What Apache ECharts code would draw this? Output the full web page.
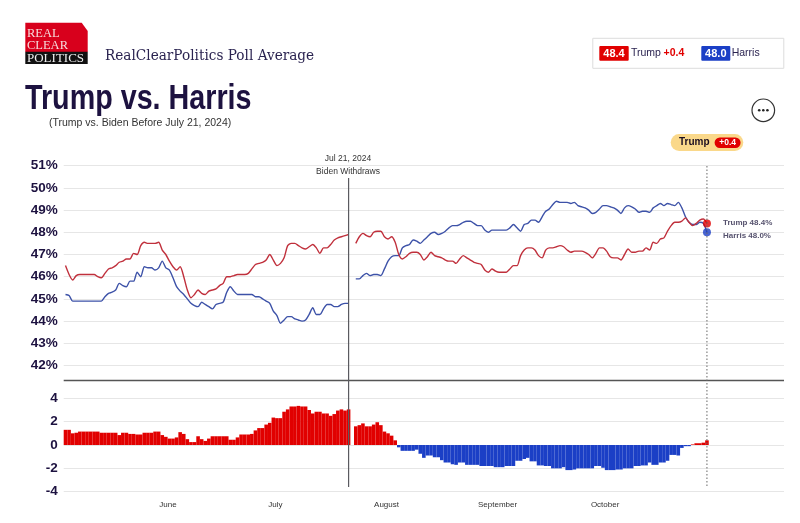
<!DOCTYPE html>
<html>
<head>
<meta charset="utf-8">
<style>
html, body { margin: 0; padding: 0; background: #fff; }
#main { width: 800px; height: 523px; }
</style>
<script src="https://cdn.jsdelivr.net/npm/echarts@6/dist/echarts.min.js"></script>
</head>
<body>
<div id="main"></div>
<script>
var startDate = [2024, 4, 3]; // May 3
var monthNames = ['Jan', 'Feb', 'Mar', 'Apr', 'May', 'Jun', 'Jul', 'Aug', 'Sep', 'Oct', 'Nov'];
var monthTicks = ['Jun 1', 'Jul 1', 'Aug 1', 'Sep 1', 'Oct 1'];
var monthLabels = ['June', 'July', 'August', 'September', 'October'];

var trumpVals = [
    46.5, 46.1, 45.85, 46.05, 46.1, 46.1, 46.1, 46.1, 46.1, 46.0,
    45.95, 46.15, 46.35, 46.4, 46.5, 46.65, 46.7, 46.8, 46.8, 47.05,
    47.0, 47.4, 47.55, 47.5, 47.5, 47.5, 47.55, 47.2, 47.0, 46.7,
    46.45, 46.3, 46.45, 46.0, 45.4, 45.05, 45.2, 45.4, 45.25, 45.2,
    45.35, 45.4, 45.45, 45.6, 45.7, 46.0, 46.0, 46.05, 46.1, 46.1,
    46.1, 46.15, 46.35, 46.55, 46.6, 46.65, 46.75, 47.0, 46.75, 46.5,
    46.6, 46.85, 47.4, 47.5, 47.5, 47.4, 47.3, 47.25, 47.35, 47.45,
    47.3, 47.05, 47.3, 47.3, 47.45, 47.65, 47.75, 47.8, 47.85, 47.9,
    null, 47.5, 47.8, 47.95, 47.85, 47.8, 48.0, 48.05, 48.05, 47.8,
    47.7, 47.8, 47.55, 47.0, 46.8, 46.9, 47.05, 47.1, 47.1, 47.0,
    46.75, 46.9, 47.1, 46.95, 46.9, 46.85, 46.75, 46.7, 46.7, 46.6,
    46.8, 46.95, 46.85, 46.75, 46.65, 46.6, 46.55, 46.3, 46.2, 46.35,
    46.25, 46.2, 46.2, 46.2, 46.35, 46.5, 46.5, 46.95, 47.2, 47.3,
    47.3, 47.2, 46.95, 46.85, 47.2, 47.3, 47.3, 47.35, 47.4, 47.35,
    47.2, 47.1, 47.15, 47.15, 47.15, 47.1, 47.0, 46.85, 47.05, 47.3,
    47.3, 47.15, 46.9, 46.85, 46.85, 46.75, 47.0, 47.25, 47.1, 47.1,
    47.15, 47.15, 47.3, 47.2, 47.55, 47.5, 47.7, 47.75, 48.05, 48.3,
    48.45, 48.45, 48.5, 48.65, 48.45, 48.3, 48.4, 48.55, 48.6, 48.4
];

var harrisVals = [
    45.2, 45.15, 44.9, 44.9, 44.9, 44.9, 44.9, 44.9, 44.9, 44.9,
    44.9, 45.1, 45.25, 45.3, 45.4, 45.7, 45.6, 45.55, 45.8, 45.8,
    46.2, 46.0, 46.45, 46.4, 46.4, 46.3, 46.4, 46.7, 46.4, 46.3,
    45.95, 45.55, 45.35, 45.2, 45.0, 44.8, 44.7, 44.65, 44.85, 44.75,
    44.65, 44.55, 44.75, 44.8, 44.85, 45.3, 45.55, 45.35, 45.2, 45.2,
    45.2, 45.2, 45.2, 45.1, 45.1, 45.0, 44.9, 44.8, 44.45, 44.25,
    43.9, 44.05, 44.2, 44.2, 44.1, 44.05, 44.0, 44.05, 44.3, 44.6,
    44.3, 44.3, 44.55, 44.75, 44.75, 44.65, 44.65, 44.75, 44.8, 44.8,
    null, 45.9, 45.9, 46.05, 46.15, 46.05, 46.1, 46.1, 46.05, 46.35,
    46.7, 46.9, 46.95, 46.95, 47.3, 47.4, 47.45, 47.65, 47.6, 47.5,
    47.65, 47.8, 47.95, 48.0, 47.9, 47.95, 48.05, 48.2, 48.3, 48.3,
    48.35, 48.45, 48.5, 48.5, 48.4, 48.3, 48.3, 48.1, 48.0, 48.1,
    48.1, 48.1, 48.1, 48.1, 48.2, 48.35, 48.2, 48.05, 48.35, 48.4,
    48.55, 48.55, 48.45, 48.7, 48.95, 49.05, 49.25, 49.4, 49.35, 49.35,
    49.35, 49.3, 49.35, 49.2, 49.15, 49.1, 49.0, 48.85, 48.9, 49.05,
    49.2, 49.2, 49.15, 49.1, 49.0, 48.85, 49.1, 49.2, 49.15, 49.05,
    48.9, 48.95, 48.95, 48.9, 49.1, 49.2, 49.3, 49.2, 49.3, 49.25,
    49.2, 49.35, 49.1, 48.7, 48.45, 48.35, 48.35, 48.45, 48.4, 48.0
];

var spreadVals = [
    1.3, 1.3, 1.0, 1.05, 1.15, 1.15, 1.15, 1.15, 1.15, 1.15,
    1.05, 1.05, 1.05, 1.05, 1.05, 0.85, 1.05, 1.05, 0.95, 0.95,
    0.9, 0.9, 1.05, 1.05, 1.05, 1.15, 1.15, 0.85, 0.7, 0.55,
    0.55, 0.65, 1.1, 0.95, 0.5, 0.25, 0.25, 0.75, 0.5, 0.35,
    0.55, 0.75, 0.75, 0.75, 0.75, 0.75, 0.45, 0.45, 0.65, 0.9,
    0.9, 0.9, 0.95, 1.25, 1.45, 1.45, 1.75, 1.9, 2.35, 2.3,
    2.3, 2.85, 3.05, 3.3, 3.3, 3.35, 3.3, 3.3, 3.0, 2.7,
    2.85, 2.85, 2.7, 2.7, 2.5, 2.65, 2.95, 3.05, 2.95, 3.05,
    null, 1.6, 1.7, 1.85, 1.6, 1.6, 1.75, 1.95, 1.7, 1.15,
    1.0, 0.8, 0.4, -0.2, -0.5, -0.5, -0.5, -0.5, -0.4, -0.75,
    -1.1, -0.9, -0.9, -1.05, -1.05, -1.3, -1.5, -1.5, -1.65, -1.7,
    -1.5, -1.5, -1.7, -1.7, -1.7, -1.7, -1.8, -1.8, -1.8, -1.8,
    -1.9, -1.9, -1.9, -1.8, -1.8, -1.8, -1.35, -1.35, -1.2, -1.1,
    -1.4, -1.4, -1.75, -1.75, -1.8, -1.8, -2.0, -2.0, -2.0, -1.9,
    -2.15, -2.15, -2.1, -2.0, -2.0, -2.0, -2.0, -2.0, -1.8, -1.8,
    -1.95, -2.15, -2.15, -2.15, -2.1, -2.1, -2.0, -2.0, -2.0, -1.8,
    -1.8, -1.75, -1.75, -1.5, -1.7, -1.7, -1.5, -1.5, -1.35, -0.85,
    -0.85, -0.9, -0.25, -0.1, -0.1, 0.05, 0.15, 0.15, 0.2, 0.4
];

var RED = '#e10000';
var BLUE = '#1b3fc6';
var NAVY = '#1d1240';
var FONT = '"Liberation Sans", Arial, sans-serif';

// one slot per day, the plot runs on past the last poll day
var days = [];
for (var i = 0; i < 201; i++) {
    var d = new Date(startDate[0], startDate[1], startDate[2] + i);
    days.push(monthNames[d.getMonth()] + ' ' + d.getDate());
}
var lastDay = days[trumpVals.length - 1];
var withdrawDay = 'Jul 21';

function txt(x, y, text, size, color, extra) {
    var style = { x: x, y: y, text: text, fontSize: size, fill: color, fontFamily: FONT, verticalAlign: 'middle' };
    for (var k in extra) style[k] = extra[k];
    return { type: 'text', z: 20, style: style };
}
// same as txt, but squeezed sideways to fit the narrow face of the original
function squeezedTxt(x, y, text, size, color, sx, extra) {
    var el = txt(0, 0, text, size, color, extra);
    el.x = x;
    el.y = y;
    el.scaleX = sx;
    return el;
}
function box(x, y, w, h, fill, r, stroke) {
    return {
        type: 'rect', z: 19,
        shape: { x: x, y: y, width: w, height: h, r: r || 0 },
        style: { fill: fill, stroke: stroke || null, lineWidth: stroke ? 1 : 0 }
    };
}
function dot(cx, cy, r, fill) {
    return { type: 'circle', z: 20, shape: { cx: cx, cy: cy, r: r }, style: { fill: fill } };
}
function vline(x, y1, y2, color, width, dash) {
    return {
        type: 'line', z: 15,
        shape: { x1: x, y1: y1, x2: x, y2: y2 },
        style: { stroke: color, lineWidth: width, lineDash: dash || null }
    };
}

var myChart = echarts.init(document.getElementById('main'), null, { renderer: 'canvas' });

function valueAxis(gridIndex, min, max, fmt) {
    return {
        type: 'value',
        gridIndex: gridIndex,
        min: min,
        max: max,
        interval: gridIndex == 0 ? 1 : 2,
        axisLine: { show: false },
        axisTick: { show: false },
        axisLabel: {
            formatter: fmt,
            margin: 6,
            color: NAVY,
            fontFamily: FONT,
            fontWeight: 'bold',
            fontSize: 13.5
        },
        splitLine: { lineStyle: { color: '#e6e6e6', width: 1.2 } }
    };
}

var option = {
    animation: false,
    backgroundColor: '#fff',
    grid: [
        { left: 63.7, right: 16, top: 165.7, height: 199.8 },
        { left: 63.7, right: 16, top: 398.3, height: 93.4 }
    ],
    xAxis: [{
        type: 'category',
        gridIndex: 0,
        data: days,
        axisLine: { show: false },
        axisTick: { show: false },
        axisLabel: { show: false },
        splitLine: { show: false }
    }, {
        type: 'category',
        gridIndex: 1,
        data: days,
        axisLine: { show: false },
        axisTick: { show: false },
        splitLine: { show: false },
        axisLabel: {
            interval: function (index, value) {
                return monthTicks.indexOf(value) >= 0;
            },
            formatter: function (value) {
                return monthLabels[monthTicks.indexOf(value)];
            },
            padding: [0, 3, 0, 0],
            margin: 9,
            color: '#333',
            fontFamily: FONT,
            fontSize: 8
        }
    }],
    yAxis: [
        valueAxis(0, 42, 51, '{value}%'),
        valueAxis(1, -4, 4, '{value}')
    ],
    series: [{
        name: 'Harris',
        type: 'line',
        xAxisIndex: 0,
        yAxisIndex: 0,
        data: harrisVals,
        smooth: 0.25,
        symbol: 'none',
        connectNulls: false,
        lineStyle: { color: '#3d52a8', width: 1.4 }
    }, {
        name: 'Trump',
        type: 'line',
        xAxisIndex: 0,
        yAxisIndex: 0,
        data: trumpVals,
        smooth: 0.25,
        symbol: 'none',
        connectNulls: false,
        lineStyle: { color: '#c0303c', width: 1.4 }
    }, {
        type: 'scatter',
        xAxisIndex: 0,
        yAxisIndex: 0,
        symbolSize: 8,
        z: 10,
        data: [{
            value: [lastDay, trumpVals[trumpVals.length - 1]],
            itemStyle: { color: RED },
            label: { formatter: 'Trump 48.4%', offset: [7, -1] }
        }, {
            value: [lastDay, harrisVals[harrisVals.length - 1]],
            itemStyle: { color: BLUE },
            label: { formatter: 'Harris 48.0%', offset: [7, 3] }
        }],
        label: {
            show: true,
            position: 'right',
            color: '#2b2548',
            fontFamily: FONT,
            fontWeight: 'bold',
            fontSize: 8
        }
    }, {
        name: 'Spread',
        type: 'bar',
        xAxisIndex: 1,
        yAxisIndex: 1,
        data: spreadVals,
        barCategoryGap: '0%',
        itemStyle: {
            color: function (p) {
                return p.value >= 0 ? RED : BLUE;
            }
        }
    }]
};
myChart.setOption(option);

// furniture that sits outside the two plots, the day rules come from the x axis
var xWithdraw = myChart.convertToPixel({ xAxisIndex: 1 }, days.indexOf(withdrawDay));
var xLast = myChart.convertToPixel({ xAxisIndex: 1 }, days.indexOf(lastDay));

myChart.setOption({
    graphic: [
        // logo
        {
            type: 'polygon', z: 18,
            shape: { points: [[25.3, 22.7], [81.7, 22.7], [87.7, 31], [87.7, 52], [25.3, 52]] },
            style: { fill: '#d8001c' }
        },
        box(25.3, 51.7, 62.4, 12.3, '#111'),
        txt(27, 34, 'REAL', 12.5, '#f6dcdc', { fontFamily: '"Liberation Serif", serif' }),
        txt(27, 46, 'CLEAR', 12.5, '#f6dcdc', { fontFamily: '"Liberation Serif", serif' }),
        txt(27, 58.5, 'POLITICS', 13, '#eee', { fontFamily: '"Liberation Serif", serif' }),

        squeezedTxt(105, 56, 'RealClearPolitics Poll Average', 15.5, '#2a2350', 0.88, { fontFamily: '"DejaVu Serif", serif' }),
        squeezedTxt(25, 99, 'Trump vs. Harris', 35, NAVY, 0.82, { fontWeight: 'bold' }),
        txt(49, 123, '(Trump vs. Biden Before July 21, 2024)', 10.5, '#333'),

        // legend box
        box(592.8, 38.3, 191, 30, '#fff', 0, '#dcdcdc'),
        box(599.3, 46, 29.4, 14.7, RED, 1),
        txt(614, 53.5, '48.4', 11, '#fff', { fontWeight: 'bold', align: 'center' }),
        txt(631, 53.5, 'Trump', 10.5, '#2a2350'),
        txt(663.5, 53.5, '+0.4', 10.5, RED, { fontWeight: 'bold' }),
        box(701.3, 46, 29, 14.7, BLUE, 1),
        txt(715.8, 53.5, '48.0', 11, '#fff', { fontWeight: 'bold', align: 'center' }),
        txt(731.7, 53.5, 'Harris', 10.5, '#2a2350'),

        // menu button
        {
            type: 'circle', z: 18,
            shape: { cx: 763.3, cy: 110.3, r: 11.3 },
            style: { fill: '#fff', stroke: '#333', lineWidth: 1.2 }
        },
        dot(759.2, 110.3, 1.3, '#222'),
        dot(763.3, 110.3, 1.3, '#222'),
        dot(767.4, 110.3, 1.3, '#222'),

        // leader pill
        box(670.7, 134, 72.6, 17, '#fad88a', 8.5),
        txt(679, 142.7, 'Trump', 10, '#1a0d20', { fontWeight: 'bold' }),
        box(714.6, 137.4, 26, 10.5, RED, 5.2),
        txt(727.6, 142.7, '+0.4', 8.5, '#fff', { fontWeight: 'bold', align: 'center' }),

        // event labels
        txt(348, 159, 'Jul 21, 2024', 8.5, '#333', { align: 'center' }),
        txt(348, 171.3, 'Biden Withdraws', 8.5, '#333', { align: 'center' }),

        // separator and day rules
        {
            type: 'line', z: 15,
            shape: { x1: 63.7, y1: 380.5, x2: 784, y2: 380.5 },
            style: { stroke: '#555', lineWidth: 1.4 }
        },
        vline(xWithdraw, 178, 487, '#5a5a60', 1.2),
        vline(xLast, 166, 487, '#666', 1, [1.5, 2])
    ]
});

window.addEventListener('resize', function () {
    myChart.resize();
});
</script>
</body>
</html>
